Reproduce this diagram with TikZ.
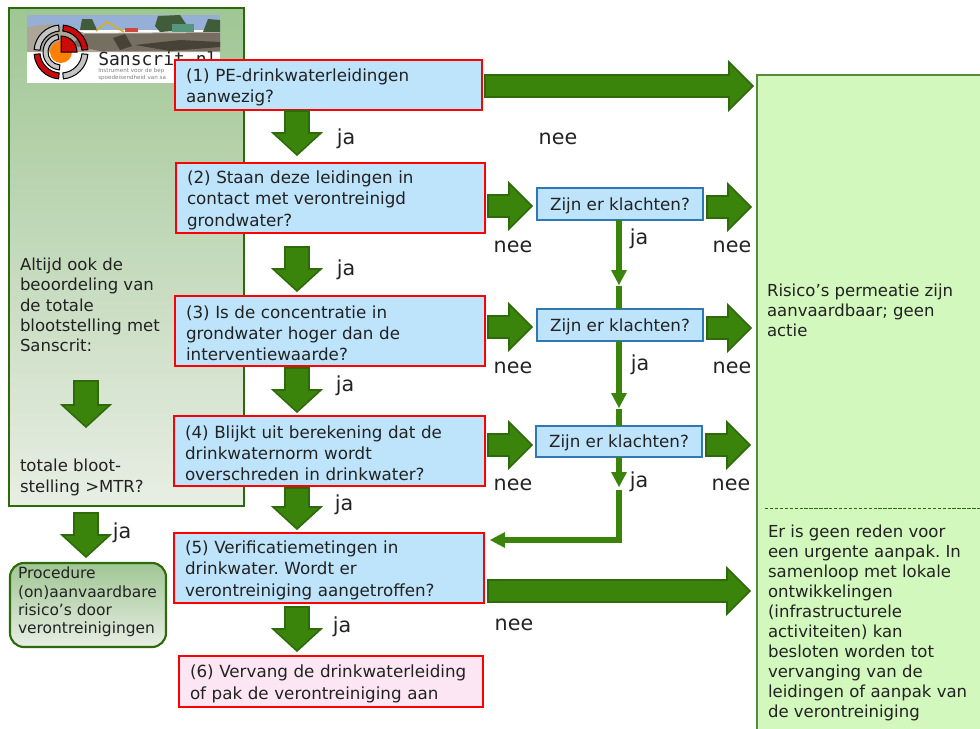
\documentclass[tikz,border=0pt]{standalone}
\usepackage{fontspec}
\setmainfont{DejaVu Sans}
\setmonofont{DejaVu Sans Mono}
\usetikzlibrary{calc}
\frenchspacing
\definecolor{bgreen}{HTML}{3A840C}
\definecolor{dgreen}{HTML}{2E6A0C}
\definecolor{pgreen}{HTML}{D3F8BD}
\definecolor{bluef}{HTML}{BEE4FC}
\definecolor{blueb}{HTML}{2F78B4}
\definecolor{pinkf}{HTML}{FDE6F3}
\definecolor{ink}{HTML}{222222}
\definecolor{ringg}{HTML}{C4C4C4}
\definecolor{ringr}{HTML}{CC0A0A}
\definecolor{gradtop}{RGB}{160,198,148}
\definecolor{gradbot}{RGB}{232,238,228}
\definecolor{ph1}{RGB}{118,110,96}
\definecolor{ph2}{RGB}{150,175,215}
\definecolor{ph3}{RGB}{172,165,152}
\definecolor{ph4}{RGB}{70,66,56}
\definecolor{ph5}{RGB}{65,92,58}
\definecolor{ph6}{RGB}{85,150,125}
\definecolor{ph7}{RGB}{210,70,60}
\definecolor{ph8}{RGB}{215,175,30}
\tikzset{
 x=0.75pt,y=-0.75pt,
 txt/.style={font=\fontsize{12.55}{16}\selectfont,text=ink,align=left,inner sep=0pt,outer sep=0pt},
 side/.style={txt,anchor=north west},
 lab/.style={font=\fontsize{15.5}{18}\selectfont,text=ink,inner sep=0pt,outer sep=0pt},
 qbox/.style={draw=red,line width=1.5pt,fill=bluef,txt},
 endbox/.style={qbox,fill=pinkf},
 kbox/.style={draw=blueb,line width=1.1pt,fill=bluef,txt,align=center,text height=12.5pt,text depth=3pt},
 panelL/.style={draw=dgreen,line width=2pt,top color=gradtop,bottom color=gradbot},
 barrow/.style={fill=bgreen,draw=dgreen,line width=1.2pt,line join=miter},
 thinline/.style={draw=bgreen,line width=3.8pt},
 thintip/.style={fill=bgreen,draw=none},
}
% box: style, name, x1, y1, x2, y2, text
\newcommand\bx[7]{%
 \pgfmathsetmacro\bw{(#5-#3)*0.75}\pgfmathsetmacro\bh{(#6-#4)*0.75}\pgfmathsetmacro\tw{(#5-#3-22)*0.75}%
 \node[#1,minimum width=\bw pt,minimum height=\bh pt,text width=\tw pt,inner xsep=8.25pt,inner ysep=0pt] (#2) at ({(#3+#5)/2},{(#4+#6)/2}) {\rule{0pt}{13pt}#7};}
\newcommand\kx[6]{%
 \pgfmathsetmacro\bw{(#4-#2)*0.75}\pgfmathsetmacro\bh{(#5-#3)*0.75}%
 \node[kbox,minimum width=\bw pt,minimum height=\bh pt,inner sep=0pt] (#1) at ({(#2+#4)/2},{(#3+#5)/2}) {#6};}
% block arrow to the right: x1, x2, y centre, shaft half, head half, head length
\newcommand\ra[6]{\draw[barrow] (#1,#3-#4) -- (#2-#6,#3-#4) -- (#2-#6,#3-#5) -- (#2,#3) -- (#2-#6,#3+#5) -- (#2-#6,#3+#4) -- (#1,#3+#4) -- cycle;}
% block arrow downward: x centre, y1, y2, shaft half, head half, head length
\newcommand\da[6]{\draw[barrow] (#1-#4,#2) -- (#1-#4,#3-#6) -- (#1-#5,#3-#6) -- (#1,#3) -- (#1+#5,#3-#6) -- (#1+#4,#3-#6) -- (#1+#4,#2) -- cycle;}
\newcommand\ringseg[5]{\filldraw[fill=#5] ({#1*cos(#3)},{-#1*sin(#3)}) arc[start angle=#3,end angle=#4,radius=#1*0.75pt] -- ({#2*cos(#4)},{-#2*sin(#4)}) arc[start angle=#4,end angle=#3,radius=#2*0.75pt] -- cycle;}
\begin{document}
\begin{tikzpicture}
\useasboundingbox (0,0) rectangle (980,728);
% left panel
\draw[panelL] (9,8) rectangle (244,506);
% logo
\fill[white] (27,15) rectangle (220,83);
\fill[ph2] (27,15) rectangle (220,30);
\fill[ph5] (80,30) -- (82,19) -- (92,19) -- (97,30) -- cycle;
\fill[ph5] (155,26) -- (158,16) -- (180,15) -- (190,30) -- (160,32) -- cycle;
\fill[ph5] (203,32) -- (208,19) -- (220,20) -- (220,32) -- cycle;
\fill[ph3] (27,27) -- (50,24) -- (85,33) -- (220,32) -- (220,52) -- (27,52) -- cycle;
\fill[ph1] (85,34) -- (220,33) -- (220,51) -- (100,51) -- (70,45) -- cycle;
\fill[ph4] (113,38) -- (125,34) -- (132,46) -- (120,50) -- cycle;
\fill[ph4] (135,45) -- (180,40) -- (220,42) -- (220,47) -- (170,51) -- cycle;
\fill[ph6] (172,24) rectangle (194,32);
\fill[ph7] (125,28) rectangle (138,32);
\draw[ph8,line width=1.2pt] (96,31) -- (107,22) -- (124,32);
% logo rings
\begin{scope}[shift={(61,52)},line width=0.75pt,draw=black]
 \ringseg{27}{21}{5}{85}{ringr}
 \ringseg{27}{21}{95}{175}{ringg}
 \ringseg{27}{21}{185}{265}{ringr}
 \ringseg{27}{21}{275}{355}{ringg}
 \ringseg{18}{13}{100}{265}{ringg}
 \fill[orange] (0,0) circle[radius=11*0.75pt];
 \filldraw[fill=ringr] (0,0) -- (16,0) arc[start angle=0,end angle=90,radius=16*0.75pt] -- cycle;
\end{scope}
\node[font=\ttfamily\fontsize{13.5}{13.5}\selectfont,text=ink,anchor=base west,inner sep=0pt] (logotext) at (98,65) {Sanscrit.nl};
\node[font=\fontsize{4.2}{5.6}\selectfont,text=gray,anchor=north west,align=left,inner sep=0pt] (logosub) at (98,68) {Instrument voor de bep\\spoedeisendheid van sa};
% right panel
\draw[draw=dgreen!80!white,line width=1.8pt,fill=pgreen] (757,75) rectangle (990,740);
\coordinate (dashL) at (765,508);
\coordinate (dashR) at (980,508);
\draw[dgreen,line width=0.6pt,dash pattern=on 2.5pt off 1.2pt] (dashL) -- (dashR);
% question boxes
\bx{qbox}{q1}{175}{60}{482}{110}{(1) PE-drinkwaterleidingen\\aanwezig?}
\bx{qbox}{q2}{176}{163}{485}{233}{(2) Staan deze leidingen in\\contact met verontreinigd\\grondwater?}
\bx{qbox}{q3}{175}{296}{485}{366}{(3) Is de concentratie in\\grondwater hoger dan de\\interventiewaarde?}
\bx{qbox}{q4}{174}{416}{485}{486}{(4) Blijkt uit berekening dat de\\drinkwaternorm wordt\\overschreden in drinkwater?}
\bx{qbox}{q5}{174}{533}{484}{603}{(5) Verificatiemetingen in\\drinkwater. Wordt er\\verontreiniging aangetroffen?}
\bx{endbox}{q6}{179}{656}{483}{707}{(6) Vervang de drinkwaterleiding\\of pak de verontreiniging aan}
\kx{k1}{537}{188}{703}{220}{Zijn er klachten?}
\kx{k2}{537}{309}{703}{341}{Zijn er klachten?}
\kx{k3}{536}{426}{702}{457}{Zijn er klachten?}
% procedure box
\draw[draw=dgreen,line width=1.6pt,rounded corners=10.5pt,top color=gradtop,bottom color=gradbot] (10,563) rectangle (166,647);
\node[side,font=\fontsize{11.6}{13.8}\selectfont] (proc) at (18,567) {Procedure\\(on)aanvaardbare\\risico’s door\\verontreinigingen};
% panel texts
\node[side,font=\fontsize{12.4}{15.2}\selectfont] (ptext1) at (20,258) {Altijd ook de\\beoordeling van\\de totale\\blootstelling met\\Sanscrit:};
\node[side,font=\fontsize{12.4}{16}\selectfont] (ptext2) at (20,459) {totale bloot-\\stelling >MTR?};
\node[side,font=\fontsize{12.4}{14.8}\selectfont] (rtext1) at (767,284) {Risico’s permeatie zijn\\aanvaardbaar; geen\\actie};
\node[side,font=\fontsize{12.4}{15}\selectfont] (rtext2) at (768,525) {Er is geen reden voor\\een urgente aanpak. In\\samenloop met lokale\\ontwikkelingen\\(infrastructurele\\activiteiten) kan\\besloten worden tot\\vervanging van de\\leidingen of aanpak van\\de verontreiniging};
% block arrows
\ra{485}{753}{86}{11}{24}{24}
\ra{488}{532}{206}{11}{23}{23}
\ra{707}{751}{207}{11}{23}{23}
\ra{488}{532}{327}{11}{23}{23}
\ra{707}{751}{328}{11}{23}{23}
\ra{488}{532}{445}{11}{23}{23}
\ra{706}{750}{445}{11}{23}{23}
\ra{488}{750}{591}{11}{23}{23}
\da{297}{111}{155}{12}{24}{22}
\da{297}{247}{291}{12}{24}{22}
\da{297}{368}{412}{12}{24}{22}
\da{297}{488}{529}{12}{24}{22}
\da{297}{607}{651}{12}{24}{22}
\da{86}{381}{427}{12}{24}{22}
\da{86}{513}{557}{12}{24}{22}
% thin connectors
\coordinate (t1) at (619,271);\coordinate (t1e) at (619,285);
\coordinate (t2) at (619,394);\coordinate (t2e) at (619,408);
\coordinate (t3) at (619,472);\coordinate (t3e) at (619,487);
\coordinate (t1b) at (619,286);\coordinate (t2b) at (619,409);
\draw[thinline] (k1.south -| t1) -- (t1);
\fill[thintip] (611,270) -- (627,270) -- (t1e) -- cycle;
\draw[thinline] (t1b) -- (k2.north -| t1);
\draw[thinline] (k2.south -| t1) -- (t2);
\fill[thintip] (611,393) -- (627,393) -- (t2e) -- cycle;
\draw[thinline] (t2b) -- (k3.north -| t1);
\draw[thinline] (k3.south -| t1) -- (t3);
\fill[thintip] (611,472) -- (627,472) -- (t3e) -- cycle;
\coordinate (t4) at (619,490);
\coordinate (t5) at (619,540);
\coordinate (t6) at (504,540);
\draw[thinline] (t4) -- (t5) -- (t6);
\fill[thintip] (505,532) -- (505,548) -- (490,540) -- cycle;
% labels
\node[lab] (ja1) at (346,139) {ja};
\node[lab] (ja2) at (346,270) {ja};
\node[lab] (ja3) at (345,386) {ja};
\node[lab] (ja4) at (344,505) {ja};
\node[lab] (ja5) at (342,627) {ja};
\node[lab] (ja6) at (122,533) {ja};
\node[lab] (ja7) at (639,239) {ja};
\node[lab] (ja8) at (640,365) {ja};
\node[lab] (ja9) at (639,482) {ja};
\node[lab] (nee1) at (558,139) {nee};
\node[lab] (nee2) at (513,247) {nee};
\node[lab] (nee3) at (732,247) {nee};
\node[lab] (nee4) at (513,368) {nee};
\node[lab] (nee5) at (732,368) {nee};
\node[lab] (nee6) at (513,485) {nee};
\node[lab] (nee7) at (731,485) {nee};
\node[lab] (nee8) at (514,625) {nee};
\end{tikzpicture}
\end{document}
